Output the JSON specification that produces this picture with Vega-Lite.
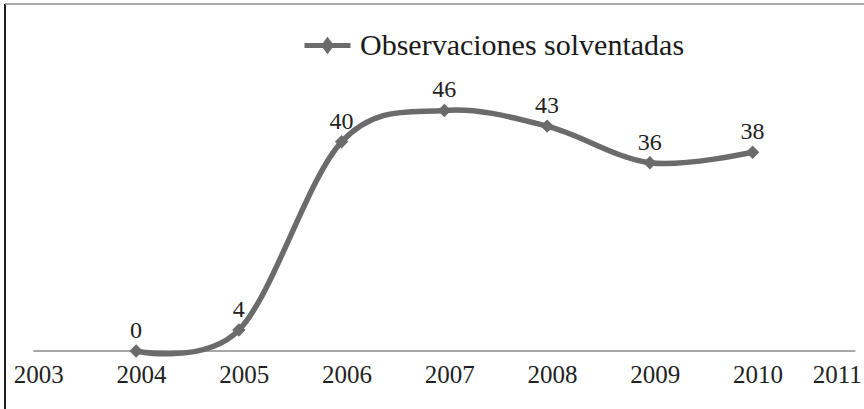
{
  "$schema": "https://vega.github.io/schema/vega-lite/v6.json",
  "width": 859,
  "height": 405,
  "autosize": {"type": "none"},
  "padding": {"left": 5, "top": 4, "right": 0, "bottom": 0},
  "background": "white",
  "config": {"view": {"stroke": null}, "font": "Liberation Serif"},
  "datasets": {
    "serie": [
      {"year": 2004, "value": 0, "serie": "Observaciones solventadas"},
      {"year": 2005, "value": 4, "serie": "Observaciones solventadas"},
      {"year": 2006, "value": 40, "serie": "Observaciones solventadas"},
      {"year": 2007, "value": 46, "serie": "Observaciones solventadas"},
      {"year": 2008, "value": 43, "serie": "Observaciones solventadas"},
      {"year": 2009, "value": 36, "serie": "Observaciones solventadas"},
      {"year": 2010, "value": 38, "serie": "Observaciones solventadas"}
    ],
    "frame": [
      {"xmin": 2002.724, "ymax": 66.35, "axisStart": 2003, "axisEnd": 2011, "zero": 0}
    ]
  },
  "layer": [
    {"data": {"name": "frame"},
     "mark": {"type": "rule", "color": "#1e1e1e", "strokeWidth": 2},
     "encoding": {"x": {"field": "xmin", "type": "quantitative",
        "scale": {"domain": [2002.724, 2011.084], "nice": false, "zero": false},
        "axis": {"values": [2003, 2004, 2005, 2006, 2007, 2008, 2009, 2010, 2011], "format": "d",
          "grid": false, "ticks": false, "domain": false, "title": null, "offset": -58,
          "labelPadding": 11, "labelFont": "Liberation Serif", "labelFontSize": 25, "labelColor": "#222222",
          "labelOverlap": false, "labelFlush": 15, "labelFlushOffset": 1, "labelOffset": 5}}}},
    {"data": {"name": "frame"},
     "mark": {"type": "rule", "color": "#8c8c8c", "strokeWidth": 1.5},
     "encoding": {"y": {"field": "ymax", "type": "quantitative",
        "scale": {"domain": [-11.09, 66.35], "nice": false, "zero": false}, "axis": null}}},
    {"data": {"name": "frame"},
     "mark": {"type": "rule", "color": "#8a8a8a", "strokeWidth": 1.5},
     "encoding": {"x": {"field": "axisStart", "type": "quantitative"}, "x2": {"field": "axisEnd"},
       "y": {"field": "zero", "type": "quantitative"}}},
    {"data": {"name": "serie"},
     "mark": {"type": "line", "interpolate": "cardinal", "strokeWidth": 5.5, "strokeCap": "round", "strokeJoin": "round"},
     "encoding": {
       "x": {"field": "year", "type": "quantitative"},
       "y": {"field": "value", "type": "quantitative"},
       "color": {"field": "serie", "type": "nominal",
        "scale": {"range": ["#6b6b6b"]},
        "legend": {"title": null, "orient": "none", "legendX": 297, "legendY": 16,
          "symbolType": "M-1,0H1M-0.15,0L0,-0.2L0.15,0L0,0.2Z",
          "symbolSize": 2116, "symbolStrokeWidth": 5, "symbolFillColor": "#6b6b6b", "symbolStrokeColor": "#6b6b6b",
          "labelFont": "Liberation Serif", "labelFontSize": 30, "labelColor": "#1a1a1a", "labelOffset": 7, "labelLimit": 0,
          "encode": {"symbols": {"update": {"fill": {"value": "#6b6b6b"}, "stroke": {"value": "#6b6b6b"}}}}}}}},
    {"data": {"name": "serie"},
     "mark": {"type": "point", "shape": "diamond", "filled": true, "size": 180, "opacity": 1, "color": "#6b6b6b"},
     "encoding": {
       "x": {"field": "year", "type": "quantitative"},
       "y": {"field": "value", "type": "quantitative"}}},
    {"data": {"name": "serie"},
     "mark": {"type": "text", "baseline": "alphabetic", "dy": -13, "font": "Liberation Serif", "fontSize": 24, "color": "#222222"},
     "encoding": {
       "x": {"field": "year", "type": "quantitative"},
       "y": {"field": "value", "type": "quantitative"},
       "text": {"field": "value", "type": "quantitative"}}}
  ]
}
